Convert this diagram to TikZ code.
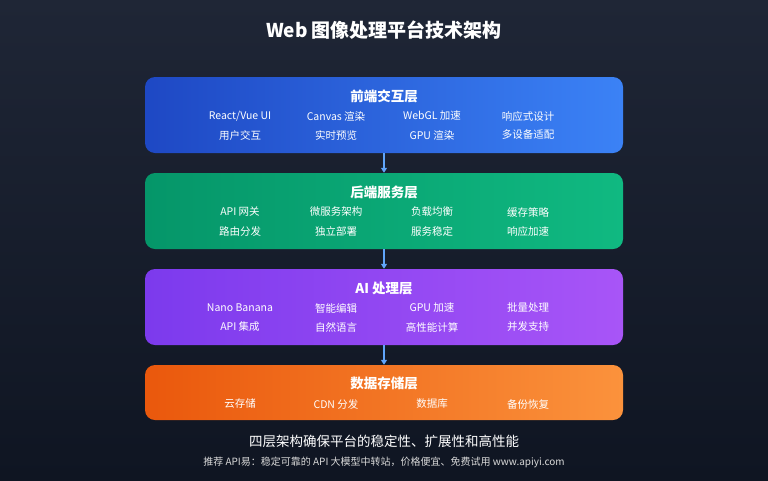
\documentclass[tikz,border=0pt]{standalone}
\usepackage{fontspec}
\setmainfont{Noto Sans CJK SC}
\usetikzlibrary{positioning,arrows.meta}
\definecolor{bgtop}{HTML}{1F2636}
\definecolor{bgbot}{HTML}{0F1522}
\definecolor{arrowblue}{HTML}{60A5FA}
\begin{document}
\begin{tikzpicture}[x=1pt,y=-1pt,
  layer/.style={draw=none,rounded corners=10pt,minimum width=478pt,inner sep=0pt},
  head/.style={text=white,font=\bfseries\fontsize{13.5}{15}\selectfont},
  item/.style={text=white,font=\fontsize{10.5}{12}\selectfont},
  link/.style={draw=arrowblue,line width=1.6pt,-{Triangle[length=5pt,width=6pt]}}]
		
		%background
		\shade[top color=bgtop,bottom color=bgbot] (0,0) rectangle (768,480);
		\useasboundingbox (0,0) rectangle (768,480);
		\node[text=white,font=\bfseries\fontsize{19}{22}\selectfont] (title) at (384,30) {Web 图像处理平台技术架构};

		%layers
		\node[layer,minimum height=76pt,left color={rgb,255:red,30;green,72;blue,196},right color={rgb,255:red,59;green,130;blue,246}] (l1) at (384,115) {};
		\node[layer,minimum height=76pt,left color={rgb,255:red,5;green,150;blue,105},right color={rgb,255:red,16;green,185;blue,129}] (l2) at (384,211) {};
		\node[layer,minimum height=76pt,left color={rgb,255:red,124;green,58;blue,237},right color={rgb,255:red,168;green,85;blue,247}] (l3) at (384,307) {};
		\node[layer,minimum height=55pt,left color={rgb,255:red,234;green,88;blue,12},right color={rgb,255:red,251;green,146;blue,60}] (l4) at (384,392.5) {};

		%headings
		\node[head] (h1) at (384,96) {前端交互层};
		\node[head] (h2) at (384,192) {后端服务层};
		\node[head] (h3) at (384,288) {AI 处理层};
		\node[head] (h4) at (384,383) {数据存储层};

		%items
		\foreach \t [count=\i] in {React/Vue UI,Canvas 渲染,WebGL 加速,响应式设计}
		  \node[item] (a\i) at (144+96*\i,116) {\t};
		\foreach \t [count=\i] in {用户交互,实时预览,GPU 渲染,多设备适配}
		  \node[item] (b\i) at (144+96*\i,135) {\t};
		\foreach \t [count=\i] in {API 网关,微服务架构,负载均衡,缓存策略}
		  \node[item] (c\i) at (144+96*\i,212) {\t};
		\foreach \t [count=\i] in {路由分发,独立部署,服务稳定,响应加速}
		  \node[item] (d\i) at (144+96*\i,231) {\t};
		\foreach \t [count=\i] in {Nano Banana,智能编辑,GPU 加速,批量处理}
		  \node[item] (e\i) at (144+96*\i,308) {\t};
		\foreach \t [count=\i] in {API 集成,自然语言,高性能计算,并发支持}
		  \node[item] (f\i) at (144+96*\i,327) {\t};
		\foreach \t [count=\i] in {云存储,CDN 分发,数据库,备份恢复}
		  \node[item] (g\i) at (144+96*\i,404) {\t};

		%arrows
		\draw[link] (l1) -- (l2);
		\draw[link] (l2) -- (l3);
		\draw[link] (l3) -- (l4);

		%footer
		\node[text=white,font=\fontsize{13.5}{15}\selectfont] (note) at (384,441) {四层架构确保平台的稳定性、扩展性和高性能};
		\node[text=white!85!black,font=\fontsize{10}{12}\selectfont] (ad) at (384,462) {推荐 API易：稳定可靠的 API 大模型中转站，价格便宜、免费试用 www.apiyi.com};

\end{tikzpicture}
\end{document}
